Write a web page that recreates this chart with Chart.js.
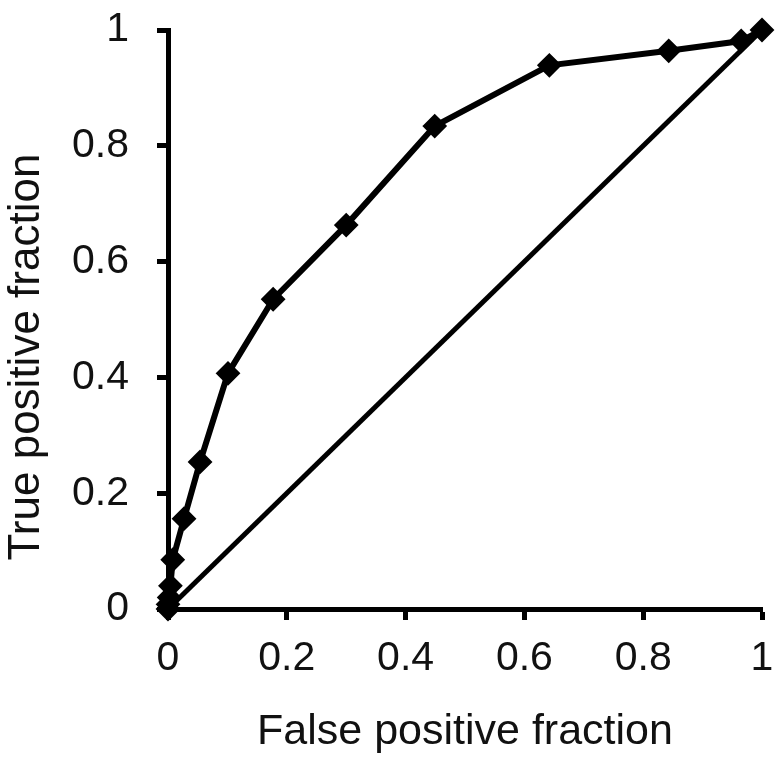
<!DOCTYPE html>
<html>
<head>
    <title>ROC curve</title>
    <script src="https://cdn.jsdelivr.net/npm/chart.js"></script>
    <style>
        body {
            margin: 0;
            background: #fff;
        }
        #wrap {
            width: 784px;
            height: 760px;
        }
    </style>
</head>
<body>
    <div id="wrap">
        <canvas id="roc" width="784" height="760"></canvas>
    </div>

    <script>
        // ROC points
        const falsePositive = [0, 0, 0.002, 0.004, 0.008, 0.027, 0.054, 0.101, 0.177, 0.300, 0.449, 0.642, 0.843, 0.965, 1];
        const truePositive  = [0, 0.008, 0.02, 0.04, 0.085, 0.156, 0.254, 0.407, 0.535, 0.663, 0.834, 0.939, 0.964, 0.981, 1];
        const chanceX = [0, 1];
        const chanceY = [0, 1];
        const tickValues = [0, 0.2, 0.4, 0.6, 0.8, 1];

        const xTitle = 'False positive fraction';
        const yTitle = 'True positive fraction';

        const fontFamily = '"Liberation Sans", Arial, sans-serif';

        // y title drawn by hand so it can sit where the original has it
        const yTitlePlugin = {
            id: 'yTitle',
            afterDraw(chart) {
                const ctx = chart.ctx;
                ctx.save();
                ctx.translate(27, 357);
                ctx.rotate(-Math.PI / 2);
                ctx.font = '44px ' + fontFamily;
                ctx.fillStyle = '#111';
                ctx.textAlign = 'center';
                ctx.textBaseline = 'middle';
                ctx.fillText(yTitle, 0, 0);
                ctx.restore();
            }
        };

        const axisCommon = {
            type: 'linear',
            min: 0,
            max: 1,
            grid: {
                drawOnChartArea: false,
                drawTicks: true,
                tickLength: 11,
                tickWidth: 5,
                tickColor: '#000'
            },
            border: { display: true, color: '#000', width: 5 },
            afterBuildTicks: (scale) => {
                scale.ticks = tickValues.map(v => ({ value: v }));
            }
        };

        new Chart(document.getElementById('roc'), {
            type: 'scatter',
            data: {
                datasets: [
                    {
                        label: 'ROC',
                        data: falsePositive.map((x, i) => ({ x: x, y: truePositive[i] })),
                        showLine: true,
                        borderColor: '#000',
                        backgroundColor: '#000',
                        borderWidth: 6,
                        pointStyle: 'rectRot',
                        pointRadius: 11,
                        pointBorderWidth: 2,
                        pointHoverRadius: 11,
                        clip: false,
                        order: 0
                    },
                    {
                        label: 'Chance',
                        data: chanceX.map((x, i) => ({ x: x, y: chanceY[i] })),
                        showLine: true,
                        borderColor: '#000',
                        borderWidth: 5,
                        pointRadius: 0,
                        clip: false,
                        order: 1
                    }
                ]
            },
            options: {
                responsive: false,
                animation: false,
                layout: { padding: { top: 30, right: 22, left: 0, bottom: 0 } },
                plugins: {
                    legend: { display: false },
                    tooltip: { enabled: false }
                },
                scales: {
                    x: Object.assign({}, axisCommon, {
                        position: 'bottom',
                        ticks: {
                            color: '#111',
                            padding: 14,
                            font: { family: fontFamily, size: 41 },
                            callback: v => String(v)
                        },
                        title: {
                            display: true,
                            text: xTitle,
                            color: '#111',
                            padding: { top: 0, bottom: 2 },
                            font: { family: fontFamily, size: 43 }
                        },
                        afterFit: (scale) => {
                            scale.height = 151;
                            scale.paddingLeft = 0;
                            scale.paddingRight = 0;
                        }
                    }),
                    y: Object.assign({}, axisCommon, {
                        position: 'left',
                        ticks: {
                            color: '#111',
                            padding: 28,
                            font: { family: fontFamily, size: 41 },
                            callback: v => String(v)
                        },
                        afterFit: (scale) => {
                            scale.width = 168;
                            scale.paddingTop = 0;
                            scale.paddingBottom = 0;
                        }
                    })
                }
            },
            plugins: [yTitlePlugin]
        });
    </script>
</body>
</html>
